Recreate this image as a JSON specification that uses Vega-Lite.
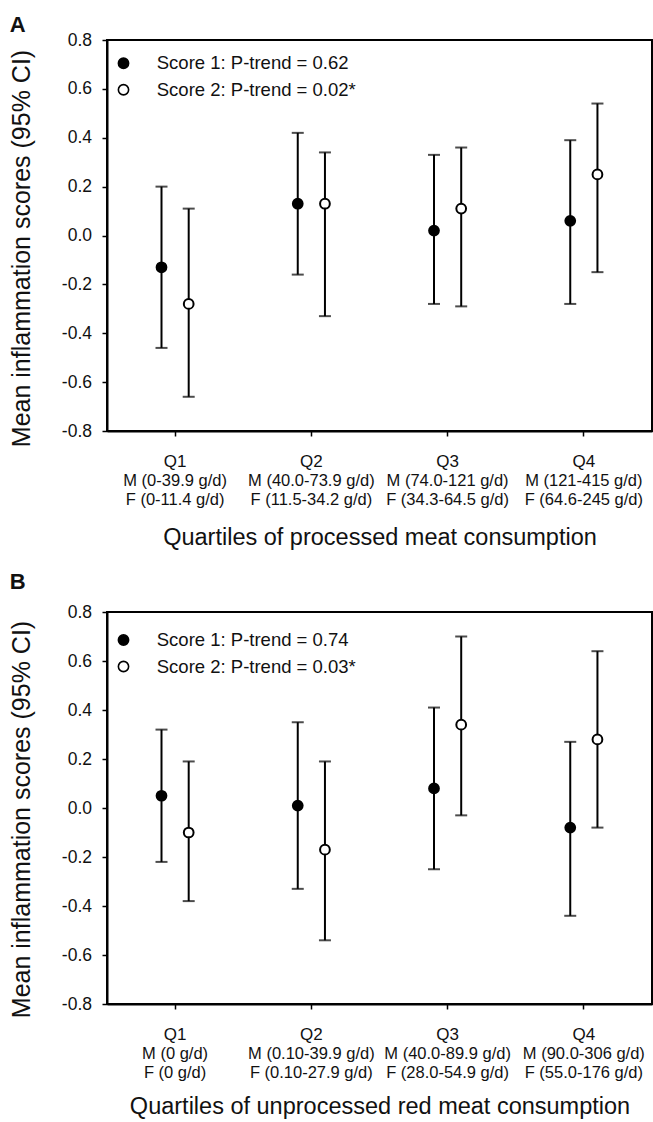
{
  "$schema": "https://vega.github.io/schema/vega-lite/v6.json",
  "background": "white",
  "padding": {"left": 8, "top": 13, "right": 0, "bottom": 0},
  "spacing": 20,
  "config": {
    "font": "Liberation Sans",
    "view": {"stroke": "black", "strokeWidth": 2},
    "axis": {"grid": false, "domainColor": "black", "domainWidth": 2, "tickColor": "black", "tickWidth": 1.5, "tickSize": 5, "labelColor": "#111", "titleColor": "#111", "labelFont": "Liberation Sans", "titleFont": "Liberation Sans", "titleFontWeight": "normal"},
    "axisX": {"labelAngle": 0, "labelFontSize": 17, "labelPadding": 17, "titleFontSize": 23.5, "titlePadding": 56},
    "axisY": {"labelFontSize": 17.5, "labelPadding": 10.5, "titleFontSize": 25, "titlePadding": 26.5},
    "legend": {"orient": "none", "title": null, "symbolType": "circle", "symbolSize": 105, "symbolStrokeColor": "black", "symbolStrokeWidth": 1.6, "labelFontSize": 18.5, "labelColor": "#111", "labelFont": "Liberation Sans", "labelLimit": 400, "rowPadding": 7.5, "padding": 0, "labelOffset": 24},
    "title": {"anchor": "start", "frame": "bounds", "fontSize": 22, "fontWeight": "bold", "font": "Liberation Sans", "color": "#111"}
  },
  "resolve": {"scale": {"fill": "independent"}, "legend": {"fill": "independent"}},
  "vconcat": [
    {
      "title": {"text": "A", "offset": -6},
      "width": 545, "height": 391,
      "data": {"values": [
        {"quartile": "Q1", "score": "Score 1", "mean": -0.13, "lo": -0.46, "hi": 0.20},
        {"quartile": "Q1", "score": "Score 2", "mean": -0.28, "lo": -0.66, "hi": 0.11},
        {"quartile": "Q2", "score": "Score 1", "mean": 0.13, "lo": -0.16, "hi": 0.42},
        {"quartile": "Q2", "score": "Score 2", "mean": 0.13, "lo": -0.33, "hi": 0.34},
        {"quartile": "Q3", "score": "Score 1", "mean": 0.02, "lo": -0.28, "hi": 0.33},
        {"quartile": "Q3", "score": "Score 2", "mean": 0.11, "lo": -0.29, "hi": 0.36},
        {"quartile": "Q4", "score": "Score 1", "mean": 0.06, "lo": -0.28, "hi": 0.39},
        {"quartile": "Q4", "score": "Score 2", "mean": 0.25, "lo": -0.15, "hi": 0.54}
      ]},
      "encoding": {
        "x": {"field": "quartile", "type": "nominal", "scale": {"type": "band", "paddingInner": 0, "paddingOuter": 0},
              "axis": {"title": "Quartiles of processed meat consumption"}},
        "xOffset": {"field": "score", "type": "nominal", "scale": {"type": "point", "range": [54.5, 81.7], "padding": 0}}
      },
      "layer": [
        {"mark": {"type": "rule", "color": "black", "strokeWidth": 2},
         "encoding": {
           "y": {"field": "lo", "type": "quantitative", "scale": {"domain": [-0.8, 0.8], "nice": false, "zero": false},
                 "axis": {"title": "Mean inflammation scores (95% CI)", "titleY": 208, "values": [-0.8, -0.6, -0.4, -0.2, 0, 0.2, 0.4, 0.6, 0.8], "labelExpr": "replace(format(datum.value, '.1f'), '\u2212', '-')"}},
           "y2": {"field": "hi"}}},
        {"mark": {"type": "tick", "orient": "horizontal", "color": "black", "thickness": 2, "size": 12},
         "encoding": {"y": {"field": "lo", "type": "quantitative"}}},
        {"mark": {"type": "tick", "orient": "horizontal", "color": "black", "thickness": 2, "size": 12},
         "encoding": {"y": {"field": "hi", "type": "quantitative"}}},
        {"mark": {"type": "point", "shape": "circle", "filled": true, "stroke": "black", "strokeWidth": 2, "size": 95, "opacity": 1},
         "encoding": {
           "y": {"field": "mean", "type": "quantitative"},
           "fill": {"field": "score", "type": "nominal", "scale": {"domain": ["Score 1", "Score 2"], "range": ["black", "white"]},
                    "legend": {"legendX": 7.25, "legendY": 14, "labelExpr": "datum.label === 'Score 1' ? 'Score 1: P-trend = 0.62' : 'Score 2: P-trend = 0.02*'"}}}},
        {"data": {"values": [
          {"quartile": "Q1", "sub": "M (0-39.9 g/d)\nF (0-11.4 g/d)"},
          {"quartile": "Q2", "sub": "M (40.0-73.9 g/d)\nF (11.5-34.2 g/d)"},
          {"quartile": "Q3", "sub": "M (74.0-121 g/d)\nF (34.3-64.5 g/d)"},
          {"quartile": "Q4", "sub": "M (121-415 g/d)\nF (64.6-245 g/d)"}]},
         "mark": {"type": "text", "fontSize": 16.5, "color": "#111", "baseline": "middle", "lineBreak": "\n", "lineHeight": 19, "dy": 50},
         "encoding": {"x": {"field": "quartile", "type": "nominal"}, "xOffset": {"value": 68.1}, "y": {"datum": -0.8}, "text": {"field": "sub"}}}
      ]
    },
    {
      "title": {"text": "B", "offset": 9},
      "width": 545, "height": 392,
      "data": {"values": [
        {"quartile": "Q1", "score": "Score 1", "mean": 0.05, "lo": -0.22, "hi": 0.32},
        {"quartile": "Q1", "score": "Score 2", "mean": -0.10, "lo": -0.38, "hi": 0.19},
        {"quartile": "Q2", "score": "Score 1", "mean": 0.01, "lo": -0.33, "hi": 0.35},
        {"quartile": "Q2", "score": "Score 2", "mean": -0.17, "lo": -0.54, "hi": 0.19},
        {"quartile": "Q3", "score": "Score 1", "mean": 0.08, "lo": -0.25, "hi": 0.41},
        {"quartile": "Q3", "score": "Score 2", "mean": 0.34, "lo": -0.03, "hi": 0.70},
        {"quartile": "Q4", "score": "Score 1", "mean": -0.08, "lo": -0.44, "hi": 0.27},
        {"quartile": "Q4", "score": "Score 2", "mean": 0.28, "lo": -0.08, "hi": 0.64}
      ]},
      "encoding": {
        "x": {"field": "quartile", "type": "nominal", "scale": {"type": "band", "paddingInner": 0, "paddingOuter": 0},
              "axis": {"title": "Quartiles of unprocessed red meat consumption", "titlePadding": 52}},
        "xOffset": {"field": "score", "type": "nominal", "scale": {"type": "point", "range": [54.5, 81.7], "padding": 0}}
      },
      "layer": [
        {"mark": {"type": "rule", "color": "black", "strokeWidth": 2},
         "encoding": {
           "y": {"field": "lo", "type": "quantitative", "scale": {"domain": [-0.8, 0.8], "nice": false, "zero": false},
                 "axis": {"title": "Mean inflammation scores (95% CI)", "titleY": 207, "values": [-0.8, -0.6, -0.4, -0.2, 0, 0.2, 0.4, 0.6, 0.8], "labelExpr": "replace(format(datum.value, '.1f'), '\u2212', '-')"}},
           "y2": {"field": "hi"}}},
        {"mark": {"type": "tick", "orient": "horizontal", "color": "black", "thickness": 2, "size": 12},
         "encoding": {"y": {"field": "lo", "type": "quantitative"}}},
        {"mark": {"type": "tick", "orient": "horizontal", "color": "black", "thickness": 2, "size": 12},
         "encoding": {"y": {"field": "hi", "type": "quantitative"}}},
        {"mark": {"type": "point", "shape": "circle", "filled": true, "stroke": "black", "strokeWidth": 2, "size": 95, "opacity": 1},
         "encoding": {
           "y": {"field": "mean", "type": "quantitative"},
           "fill": {"field": "score", "type": "nominal", "scale": {"domain": ["Score 1", "Score 2"], "range": ["black", "white"]},
                    "legend": {"legendX": 7.25, "legendY": 18.75, "labelExpr": "datum.label === 'Score 1' ? 'Score 1: P-trend = 0.74' : 'Score 2: P-trend = 0.03*'"}}}},
        {"data": {"values": [
          {"quartile": "Q1", "sub": "M (0 g/d)\nF (0 g/d)"},
          {"quartile": "Q2", "sub": "M (0.10-39.9 g/d)\nF (0.10-27.9 g/d)"},
          {"quartile": "Q3", "sub": "M (40.0-89.9 g/d)\nF (28.0-54.9 g/d)"},
          {"quartile": "Q4", "sub": "M (90.0-306 g/d)\nF (55.0-176 g/d)"}]},
         "mark": {"type": "text", "fontSize": 16.5, "color": "#111", "baseline": "middle", "lineBreak": "\n", "lineHeight": 19, "dy": 50},
         "encoding": {"x": {"field": "quartile", "type": "nominal"}, "xOffset": {"value": 68.1}, "y": {"datum": -0.8}, "text": {"field": "sub"}}}
      ]
    }
  ]
}
